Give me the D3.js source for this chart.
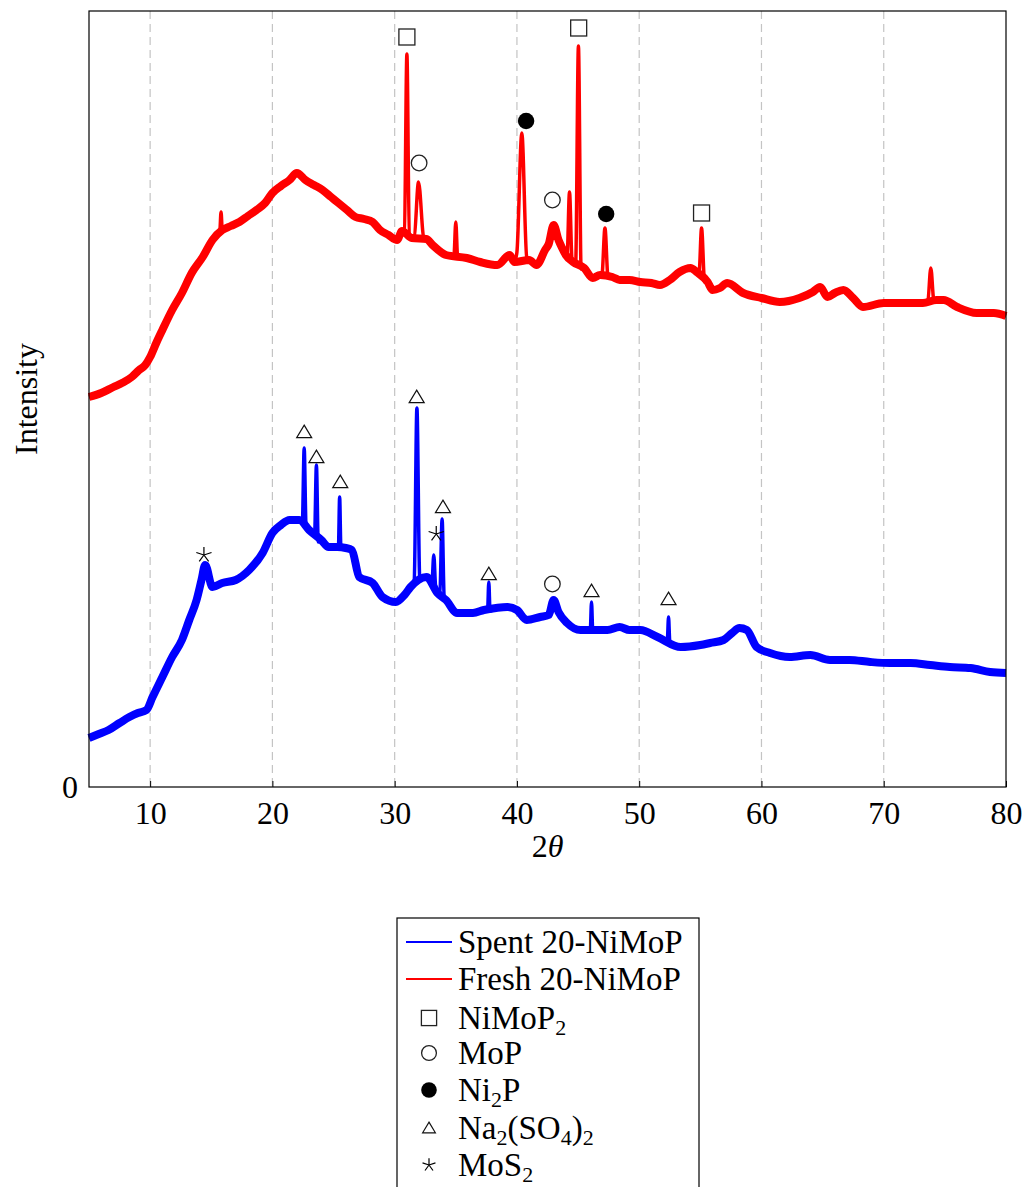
<!DOCTYPE html>
<html>
<head>
<meta charset="utf-8">
<script src="https://cdn.jsdelivr.net/npm/d3@7"></script>
<style>
  body { margin: 0; background: #fff; }
  text { font-family: "Liberation Serif", "DejaVu Serif", serif; fill: #000; }
</style>
</head>
<body>
<div id="chart"></div>
<script>
// 2theta range and intensity range (arbitrary units)
const xDomain = [5, 80];
const yDomain = [0, 776];
const xTicks = [10, 20, 30, 40, 50, 60, 70, 80];
const yTicks = [0];

// fresh catalyst: broad background [2theta, intensity]
const freshBase = [
  [5.0, 390], [6.0, 394], [7.0, 400], [7.7, 404], [8.5, 410], [9.1, 417], [9.6, 422],
  [10.0, 430], [10.5, 444], [11.0, 457], [11.8, 477], [12.6, 494], [13.4, 514],
  [14.3, 530], [15.1, 547], [15.9, 557], [16.6, 561], [17.3, 565], [18.0, 571],
  [18.7, 577], [19.4, 584], [20.0, 594], [20.7, 601], [21.4, 607], [22.0, 614],
  [22.7, 607], [23.4, 602], [24.1, 597], [24.8, 590], [25.4, 584], [26.1, 577],
  [26.8, 570], [27.5, 568], [28.2, 565], [28.8, 557], [29.5, 552], [30.2, 547],
  [30.6, 556], [31.4, 549], [32.6, 548], [33.1, 542], [34.2, 532], [35.9, 529],
  [37.0, 525], [38.4, 522], [39.4, 532], [39.8, 525], [41.0, 527], [41.6, 522],
  [42.3, 537], [42.6, 543], [43.0, 562], [43.4, 547], [43.7, 539], [44.0, 532],
  [44.6, 525], [45.5, 519], [46.2, 509], [46.8, 512], [47.8, 510], [48.4, 507],
  [49.2, 507], [50.1, 505], [51.0, 504], [51.7, 502], [52.5, 507], [53.3, 515],
  [54.2, 519], [54.7, 515], [55.6, 505], [56.0, 497], [56.6, 499], [57.2, 504],
  [58.5, 494], [60.0, 489], [61.5, 485], [63.1, 489], [64.2, 495], [64.8, 500],
  [65.4, 490], [66.0, 494], [66.7, 497], [67.5, 489], [68.3, 480], [70.0, 484],
  [71.9, 484], [73.2, 484], [74.3, 487], [74.9, 487], [76.0, 480], [77.6, 474],
  [79.0, 474], [80.0, 471]
];
// sharp reflections of the fresh catalyst, each [left foot, top, right foot]
const freshPeaks = [
  [[15.7, 556], [15.8, 575], [15.9, 557]],
  [[30.8, 558], [31.0, 733], [31.2, 550]],
  [[31.6, 550], [31.95, 605], [32.4, 548]],
  [[34.85, 532], [35.0, 565], [35.15, 530]],
  [[40.0, 535], [40.4, 654], [40.8, 530]],
  [[44.1, 530], [44.3, 595], [44.5, 528]],
  [[44.8, 522], [45.03, 741], [45.25, 518]],
  [[46.95, 512], [47.2, 559], [47.45, 510]],
  [[54.9, 515], [55.1, 559], [55.35, 505]],
  [[73.6, 485], [73.85, 519], [74.1, 487]]
];

// spent catalyst
const spentBase = [
  [5.0, 49], [5.8, 53], [6.6, 57], [7.5, 64], [8.3, 70], [9.0, 74], [9.7, 77],
  [10.2, 90], [11.0, 110], [11.8, 130], [12.6, 147], [13.2, 167], [13.8, 187],
  [14.2, 207], [14.5, 222], [15.1, 200], [15.9, 204], [17.0, 207], [18.1, 217],
  [19.2, 234], [20.0, 254], [20.7, 262], [21.4, 267], [22.2, 267], [23.0, 257],
  [24.0, 247], [24.6, 240], [25.3, 240], [26.0, 239], [26.5, 237], [27.1, 210],
  [28.2, 204], [29.0, 190], [30.1, 185], [30.8, 192], [31.3, 200], [32.6, 210],
  [33.5, 194], [34.2, 187], [35.1, 174], [36.4, 174], [37.3, 177], [38.3, 179],
  [39.2, 180], [40.0, 177], [40.8, 167], [41.9, 170], [42.6, 172], [43.0, 187],
  [43.4, 175], [44.1, 164], [45.2, 157], [47.4, 157], [48.4, 160], [49.2, 157],
  [50.1, 157], [51.5, 150], [53.4, 140], [55.0, 142], [55.8, 144], [56.9, 147],
  [57.6, 154], [58.2, 159], [58.8, 157], [59.6, 140], [60.7, 134], [62.3, 130],
  [64.0, 132], [65.6, 127], [67.2, 127], [68.9, 125], [70.5, 124], [72.2, 124],
  [73.8, 122], [75.4, 120], [77.1, 119], [78.7, 115], [80.0, 114]
];
const spentPeaks = [
  [[22.45, 265], [22.6, 339], [22.75, 262]],
  [[23.45, 252], [23.6, 322], [23.75, 245]],
  [[25.4, 240], [25.5, 290], [25.6, 240]],
  [[31.6, 207], [31.82, 379], [32.05, 210]],
  [[33.05, 205], [33.2, 232], [33.35, 200]],
  [[33.7, 196], [33.88, 268], [34.05, 190]],
  [[37.6, 177], [37.7, 205], [37.8, 176]],
  [[46.0, 157], [46.1, 185], [46.2, 157]],
  [[52.3, 147], [52.4, 170], [52.5, 146]]
];

// phase labels above the reflections
const nimop2Marks = [[31.0, 750], [45.05, 759], [55.1, 574]];
const mopMarks = [[32.0, 624], [42.9, 587], [42.9, 203]];
const ni2pMarks = [[40.75, 666], [47.3, 573]];
const naMarks = [[22.6, 355], [23.6, 330], [25.55, 305], [31.8, 390], [33.95, 280], [37.7, 213], [46.1, 196], [52.4, 188]];
const mos2Marks = [[14.4, 232], [33.4, 253]];

const width = 1026;
const height = 1187;

var svg = d3.select("#chart").append("svg")
  .attr("width", width)
  .attr("height", height);

var x = d3.scaleLinear().domain(xDomain).range([89, 1006]);
var y = d3.scaleLinear().domain(yDomain).range([787, 11]);

// grid
svg.append("g")
  .selectAll("line")
  .data(xTicks.filter(t => t < 80))
  .enter().append("line")
  .attr("x1", d => x(d)).attr("x2", d => x(d))
  .attr("y1", y(yDomain[1])).attr("y2", y(0))
  .attr("stroke", "#c4c4c4")
  .attr("stroke-width", 1.2)
  .attr("stroke-dasharray", "8,5");

// merge background with the peaks (drop background points under a peak)
function withPeaks(base, peaks) {
  var pts = base.filter(p => !peaks.some(pk => p[0] >= pk[0][0] && p[0] <= pk[2][0]));
  peaks.forEach(pk => pk.forEach(p => pts.push(p)));
  return pts.sort((a, b) => a[0] - b[0]);
}

var line = d3.line().x(d => x(d[0])).y(d => y(d[1])).curve(d3.curveMonotoneX);

function drawSeries(base, peaks, color) {
  // thick band for the noisy background
  svg.append("path")
    .attr("d", line(base))
    .attr("fill", "none")
    .attr("stroke", color)
    .attr("stroke-width", 8)
    .attr("stroke-linejoin", "round");
  svg.append("path")
    .attr("d", line(withPeaks(base, peaks)))
    .attr("fill", "none")
    .attr("stroke", color)
    .attr("stroke-width", 3.5)
    .attr("stroke-linejoin", "round");
}

drawSeries(spentBase, spentPeaks, "#0000ff");
drawSeries(freshBase, freshPeaks, "#ff0000");

// axes
var xAxis = d3.axisBottom(x).tickValues(xTicks).tickSize(-6).tickPadding(14);
var gx = svg.append("g").attr("transform", `translate(0,${y(0)})`).call(xAxis);
gx.select(".domain").remove();
gx.selectAll("text").style("font-size", "32px").attr("font-family", "Liberation Serif").attr("dy", "0.71em");
gx.selectAll("line").attr("stroke", "#000");

var yAxis = d3.axisLeft(y).tickValues(yTicks).tickSize(0).tickPadding(11);
var gy = svg.append("g").attr("transform", `translate(${x(5)},0)`).call(yAxis);
gy.select(".domain").remove();
gy.selectAll("text").style("font-size", "32px").attr("font-family", "Liberation Serif");

// frame
svg.append("rect")
  .attr("x", x(5)).attr("y", y(yDomain[1]))
  .attr("width", x(80) - x(5)).attr("height", y(0) - y(yDomain[1]))
  .attr("fill", "none").attr("stroke", "#000").attr("stroke-width", 1.2);

// axis labels
svg.append("text")
  .attr("transform", `translate(37,${(y(0) + y(yDomain[1])) / 2}) rotate(-90)`)
  .attr("text-anchor", "middle")
  .style("font-size", "32px")
  .text("Intensity");

var xl = svg.append("text")
  .attr("x", (x(5) + x(80)) / 2).attr("y", 857)
  .attr("text-anchor", "middle")
  .style("font-size", "32px");
xl.append("tspan").text("2");
xl.append("tspan").style("font-style", "italic").text("θ");

// marker shapes
function drawMark(g, type, cx, cy, s) {
  s = s || 1;
  if (type == "square") {
    g.append("rect").attr("x", cx - 8 * s).attr("y", cy - 8 * s)
      .attr("width", 16 * s).attr("height", 16 * s)
      .attr("fill", "#fff").attr("stroke", "#222").attr("stroke-width", 1.3);
  } else if (type == "circle") {
    g.append("circle").attr("cx", cx).attr("cy", cy).attr("r", 7.8 * s)
      .attr("fill", "#fff").attr("stroke", "#222").attr("stroke-width", 1.3);
  } else if (type == "dot") {
    g.append("circle").attr("cx", cx).attr("cy", cy).attr("r", 8.2 * s)
      .attr("fill", "#000");
  } else if (type == "triangle") {
    var w = 7.5 * s, h = 12.5 * s;
    g.append("path")
      .attr("d", `M${cx},${cy - h * 0.55}L${cx + w},${cy + h * 0.45}L${cx - w},${cy + h * 0.45}Z`)
      .attr("fill", "#fff").attr("stroke", "#111").attr("stroke-width", 1.2);
  } else if (type == "star") {
    var r = 8 * s, d = "";
    for (var i = 0; i < 5; i++) {
      var a = (-90 + i * 72) * Math.PI / 180;
      d += `M${cx},${cy}L${cx + r * Math.cos(a)},${cy + r * Math.sin(a)}`;
    }
    g.append("path").attr("d", d).attr("stroke", "#000").attr("stroke-width", 1.2).attr("fill", "none");
  }
}

var marks = svg.append("g");
[[nimop2Marks, "square"], [mopMarks, "circle"], [ni2pMarks, "dot"], [naMarks, "triangle"], [mos2Marks, "star"]]
  .forEach(function (m) {
    m[0].forEach(p => drawMark(marks, m[1], x(p[0]), y(p[1])));
  });

// legend
var legend = svg.append("g");
legend.append("rect")
  .attr("x", 397).attr("y", 918)
  .attr("width", 302).attr("height", 290)
  .attr("fill", "#fff").attr("stroke", "#000").attr("stroke-width", 1.2);

// label parts: [text, isSubscript]
const legendRows = [
  {type: "line", color: "#0000ff", parts: [["Spent 20-NiMoP", 0]]},
  {type: "line", color: "#ff0000", parts: [["Fresh 20-NiMoP", 0]]},
  {type: "square", parts: [["NiMoP", 0], ["2", 1]]},
  {type: "circle", parts: [["MoP", 0]]},
  {type: "dot", parts: [["Ni", 0], ["2", 1], ["P", 0]]},
  {type: "triangle", parts: [["Na", 0], ["2", 1], ["(SO", 0], ["4", 1], [")", 0], ["2", 1]]},
  {type: "star", parts: [["MoS", 0], ["2", 1]]}
];
const legendRowY = [942, 979, 1018, 1053, 1090, 1128, 1165];

legendRows.forEach(function (row, i) {
  var cy = legendRowY[i];
  if (row.type == "line") {
    legend.append("line")
      .attr("x1", 406).attr("x2", 452).attr("y1", cy).attr("y2", cy)
      .attr("stroke", row.color).attr("stroke-width", 2);
  } else {
    drawMark(legend, row.type, 429, cy, row.type == "triangle" || row.type == "star" ? 0.85 : 0.95);
  }
  var t = legend.append("text")
    .attr("x", 458).attr("y", cy + 11)
    .style("font-size", "33px");
  var sub = false;
  row.parts.forEach(function (p) {
    var ts = t.append("tspan").text(p[0]);
    if (p[1] && !sub) { ts.attr("dy", 6).style("font-size", "22px"); sub = true; }
    else if (p[1]) { ts.style("font-size", "22px"); }
    else if (sub) { ts.attr("dy", -6); sub = false; }
  });
});
</script>
</body>
</html>
